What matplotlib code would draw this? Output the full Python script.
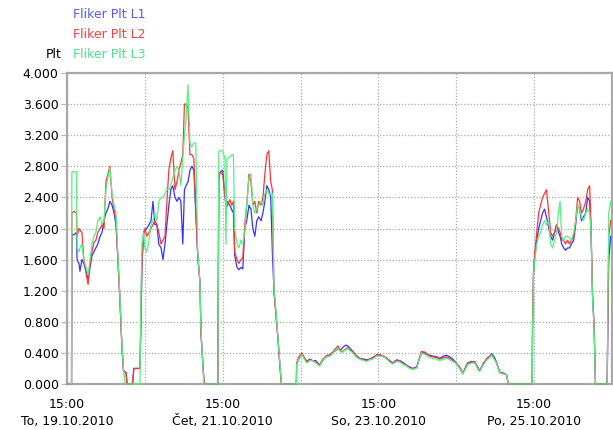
import numpy as np
import matplotlib
matplotlib.use("Agg")
import matplotlib.pyplot as plt
from matplotlib.ticker import FormatStrFormatter

# hours since 19.10.2010 15:00
hours = [
    0, 1.4, 1.5, 2.2, 2.9, 3.1, 3.7, 4.0, 4.6, 5.2, 5.9, 6.5, 7.1, 7.7, 8.3, 8.9,
    9.5, 10.2, 10.8, 11.4, 12.0, 12.6, 13.2, 13.9, 14.5, 15.1, 15.7, 16.3, 16.9,
    17.4, 17.9, 18.2, 18.5, 20.2, 20.6, 22.5, 22.8, 23.1, 23.6,
    24.0, 24.6, 25.3, 25.9, 26.5, 27.1, 27.7, 28.3, 29.0, 29.6, 30.2, 30.8, 31.4,
    32.0, 32.6, 33.3, 33.9, 34.5, 35.1, 35.7, 36.2, 36.7, 37.3, 37.9, 38.5, 39.1,
    39.7, 40.3, 41.0, 41.3, 41.7, 42.2, 42.5, 46.5,
    46.8, 47.1, 48.0, 48.7, 49.0, 49.3, 50.2, 50.8, 51.3, 51.7, 52.4, 53.0, 53.6,
    54.2, 54.8, 55.4, 56.1, 56.7, 57.3, 57.9, 58.5, 59.1, 59.8, 60.4, 61.0, 61.6,
    62.2, 62.8, 63.3, 63.8, 64.4, 65.0, 65.6, 66.1, 70.7,
    70.8, 71.5, 72.4, 73.3, 73.9, 74.8, 75.8, 76.7, 77.9, 78.8, 80.1, 81.0, 81.6,
    82.5, 83.5, 84.4, 85.0, 85.9, 86.5, 87.2, 88.1, 89.3, 90.2, 91.5, 92.4, 93.3,
    94.2, 95.5, 96.4, 97.6, 98.6, 99.5, 100.4, 101.6, 102.6, 103.8, 104.7, 105.6,
    106.6, 107.8, 108.7, 109.3, 110.3, 110.9, 111.8, 112.7, 114.0, 114.9, 116.1,
    117.0, 118.0, 118.9, 119.8, 121.0, 122.0, 122.9, 123.5, 124.7, 125.7, 126.6,
    127.2, 128.4, 129.4, 130.3, 130.9, 131.8, 132.4, 133.4, 134.6, 135.5, 136.0,
    143.4,
    143.5, 143.8, 144.1, 144.8, 145.4, 146.0, 146.6, 147.2, 147.8, 148.5, 149.1,
    149.7, 150.3, 150.9, 151.5, 152.0, 152.5, 153.1, 153.7, 154.3, 154.9, 155.5,
    156.2, 156.8, 157.4, 158.0, 158.6, 159.2, 159.9, 160.5, 161.1, 161.5, 162.0,
    162.5, 162.9, 166.5, 167.0, 167.6,
]

plt_l1 = [
    0, 0, 1.92, 1.92, 1.95, 1.6, 1.55, 1.45, 1.6, 1.55, 1.45, 1.35, 1.5, 1.65, 1.7, 1.75,
    1.8, 1.9, 1.95, 2.1, 2.2, 2.25, 2.35, 2.3, 2.2, 2.05, 1.6, 1.1, 0.5,
    0.18, 0.15, 0.15, 0, 0, 0.2, 0.2, 0.8, 1.5, 1.95,
    1.98, 2.0, 2.05, 2.1, 2.35, 2.05, 2.05, 1.8, 1.75, 1.6, 1.8, 2.05, 2.3,
    2.5, 2.55, 2.4, 2.35, 2.4, 2.35, 1.8, 2.5, 2.55, 2.6, 2.75, 2.8, 2.75,
    2.2, 1.65, 1.3, 0.65, 0.39, 0.05, 0, 0,
    2.7, 2.72, 2.75, 2.4, 2.3, 2.35, 2.3, 2.24, 2.2, 1.65, 1.5, 1.47, 1.5,
    1.48, 2.0, 2.1, 2.3, 2.25, 2.0, 1.9, 2.1, 2.15, 2.1, 2.2, 2.35, 2.55,
    2.5, 2.4, 1.7, 1.2, 0.9, 0.6, 0.25, 0, 0,
    0.26, 0.33, 0.39, 0.33, 0.28, 0.32, 0.3, 0.3, 0.24, 0.3, 0.37, 0.36, 0.4,
    0.42, 0.45, 0.44, 0.47, 0.5, 0.49, 0.46, 0.42, 0.36, 0.33, 0.32, 0.31, 0.32,
    0.34, 0.37, 0.38, 0.35, 0.33, 0.3, 0.27, 0.31, 0.3, 0.27, 0.24, 0.22,
    0.2, 0.22, 0.33, 0.41, 0.4, 0.38, 0.37, 0.36, 0.35, 0.33, 0.36,
    0.37, 0.35, 0.32, 0.28, 0.21, 0.13, 0.22, 0.27, 0.29, 0.28, 0.22,
    0.17, 0.27, 0.32, 0.35, 0.39, 0.34, 0.28, 0.15, 0.14, 0.12, 0,
    0,
    0.7, 1.4, 1.6, 1.85, 2.0, 2.1, 2.2, 2.25, 2.15, 2.0, 1.9,
    1.85, 1.95, 2.05, 1.95, 1.9, 1.8, 1.75, 1.72, 1.75, 1.75, 1.8,
    1.85, 2.05, 2.3, 2.25, 2.1, 2.15, 2.2, 2.4, 2.35, 2.0, 1.15,
    0.7, 0, 0, 1.6, 1.9,
]

plt_l2 = [
    0, 0, 2.2, 2.22, 2.2, 1.9, 2.0, 1.98, 1.95, 1.6, 1.42, 1.28, 1.55, 1.7, 1.82, 1.85,
    1.95, 2.0, 2.05, 2.0, 2.6, 2.7, 2.8, 2.4, 2.25, 2.1, 1.6, 1.1, 0.5,
    0.18, 0.15, 0.15, 0, 0, 0.2, 0.2, 0.9, 1.6, 1.9,
    2.0, 1.9, 1.95, 2.0, 2.05, 2.1, 2.05, 1.95, 1.8, 1.85, 1.9, 2.35, 2.75,
    2.9, 3.0, 2.5, 2.6, 2.75, 2.85, 2.95, 3.6, 3.6, 3.55, 2.95, 2.95, 2.9,
    2.25, 1.65, 1.3, 0.65, 0.39, 0.05, 0, 0,
    2.6, 2.72, 2.7, 2.4, 2.4, 2.28, 2.37, 2.3, 2.35, 1.7, 1.6, 1.55, 1.6,
    1.62, 2.05, 2.3, 2.7, 2.6, 2.3, 2.35, 2.2, 2.35, 2.3, 2.4, 2.7, 2.95,
    3.0, 2.6, 2.5, 1.2, 0.9, 0.6, 0.25, 0, 0,
    0.27, 0.35, 0.4, 0.32, 0.3, 0.31, 0.3, 0.28, 0.25, 0.32, 0.36, 0.38, 0.39,
    0.44, 0.49, 0.42, 0.42, 0.45, 0.47, 0.44, 0.41, 0.36, 0.33, 0.31, 0.3, 0.32,
    0.33, 0.38, 0.37, 0.36, 0.33, 0.29, 0.26, 0.3, 0.3, 0.25, 0.24, 0.21,
    0.19, 0.21, 0.35, 0.42, 0.41, 0.39, 0.36, 0.35, 0.34, 0.32, 0.34,
    0.35, 0.33, 0.3, 0.27, 0.22, 0.14, 0.21, 0.26, 0.28, 0.29, 0.2,
    0.17, 0.26, 0.33, 0.36, 0.37, 0.32, 0.27, 0.15, 0.13, 0.12, 0,
    0,
    0.7, 1.45, 1.65, 1.95, 2.2, 2.3, 2.4, 2.45, 2.5, 2.2, 1.95,
    1.9, 1.95, 2.05, 2.0, 1.95, 1.85, 1.85, 1.8, 1.85, 1.8, 1.85,
    1.9, 2.1, 2.4, 2.35, 2.2, 2.25, 2.35, 2.5, 2.55, 2.1, 1.15,
    0.75, 0, 0, 1.9, 2.1,
]

plt_l3 = [
    0, 0, 2.73, 2.73, 2.73, 1.75, 1.7, 1.75, 1.8, 1.6, 1.5, 1.4, 1.6, 1.8, 1.9, 1.95,
    2.1, 2.15, 2.05, 2.1, 2.5, 2.65, 2.78, 2.45, 2.3, 2.2, 1.65, 1.15, 0.55,
    0.2, 0, 0, 0, 0, 0, 0, 1.2, 1.8, 1.95,
    1.75, 1.7, 1.85, 2.05, 2.1, 2.2, 2.1, 2.35, 2.4, 2.4, 2.45, 2.5, 2.5,
    2.55, 2.65, 2.75, 2.8, 2.75, 2.55, 2.9, 3.2, 3.4, 3.85, 3.1, 3.05, 3.1,
    3.1, 1.7, 1.3, 0.7, 0.4, 0, 0, 0,
    2.99, 3.0, 3.0, 2.9, 1.8, 2.9, 2.92, 2.95, 2.95, 2.0, 1.8, 1.75, 1.85,
    1.8, 1.95, 2.3, 2.65, 2.7, 2.3, 2.2, 2.25, 2.3, 2.35, 2.3, 2.45, 2.5,
    2.45, 2.45, 2.45, 1.25, 0.95, 0.62, 0.3, 0, 0,
    0.25, 0.32, 0.38, 0.31, 0.27, 0.3, 0.3, 0.27, 0.23, 0.31, 0.35, 0.36, 0.38,
    0.42, 0.46, 0.41, 0.41, 0.44, 0.46, 0.43, 0.4, 0.34, 0.32, 0.3, 0.29, 0.31,
    0.32, 0.36, 0.36, 0.35, 0.32, 0.28, 0.26, 0.29, 0.28, 0.25, 0.23, 0.2,
    0.19, 0.2, 0.33, 0.4, 0.38, 0.37, 0.34, 0.33, 0.32, 0.3, 0.32,
    0.33, 0.31, 0.29, 0.27, 0.2, 0.13, 0.2, 0.25, 0.27, 0.27, 0.2,
    0.16, 0.25, 0.31, 0.34, 0.37, 0.31, 0.27, 0.14, 0.13, 0.12, 0,
    0,
    0.65, 1.4, 1.55, 1.8, 1.9, 1.95, 2.05, 2.1, 2.05, 2.1, 1.8,
    1.75, 1.85, 1.95, 2.2, 2.35, 1.9, 1.85, 1.9, 1.9, 1.88, 1.85,
    1.95, 2.1, 2.3, 2.25, 2.15, 2.1, 2.2, 2.25, 2.2, 2.0, 1.1,
    0.7, 0, 0, 2.2, 2.35,
]

series_names = ["Fliker Plt L1", "Fliker Plt L2", "Fliker Plt L3"]
line_colors = ["#3434ff", "#ff3434", "#55f07f"]
text_colors = ["#5a5aee", "#f04040", "#4ee08a"]

x_ticks = [0, 24, 48, 72, 96, 120, 144, 168]
x_labels = ["15:00\nTo, 19.10.2010", "", "15:00\nČet, 21.10.2010", "",
            "15:00\nSo, 23.10.2010", "", "15:00\nPo, 25.10.2010", ""]
y_ticks = np.arange(0, 4.01, 0.4)

plt.rcParams['font.family'] = ['DejaVu Sans']

fig = plt.figure(figsize=(6.13, 4.30), dpi=100)
ax = fig.add_axes([67 / 613, 46 / 430, 545 / 613, 311 / 430])

for s in ax.spines.values():
    s.set_color('#a8a8a8')
    s.set_linewidth(1.6)

for vals, col in zip([plt_l1, plt_l2, plt_l3], line_colors):
    ax.plot(hours, vals, color=col, lw=0.9, zorder=3, clip_on=False)

ax.set_xlim(0, 168)
ax.set_ylim(0, 4.0)
ax.set_xticks(x_ticks)
ax.set_xticklabels(x_labels, fontsize=9, linespacing=1.45)
ax.set_yticks(y_ticks)
ax.yaxis.set_major_formatter(FormatStrFormatter('%.3f'))
ax.tick_params(axis='y', labelsize=9, length=4, pad=2, color='#b8b8b8')
ax.tick_params(axis='x', length=0, pad=10)
ax.grid(True, color='#aaaaaa', linestyle=(0, (1, 1.5)), lw=0.9)

for i, (name, tc) in enumerate(zip(series_names, text_colors)):
    fig.text(73 / 613, 1 - (15 + 19.5 * i) / 430, name, color=tc,
             fontsize=9, va='center', ha='left')
fig.text(62 / 613, 1 - 54 / 430, "Plt", color='black', fontsize=9,
         va='center', ha='right')

fig.savefig("out.png", dpi=100)
